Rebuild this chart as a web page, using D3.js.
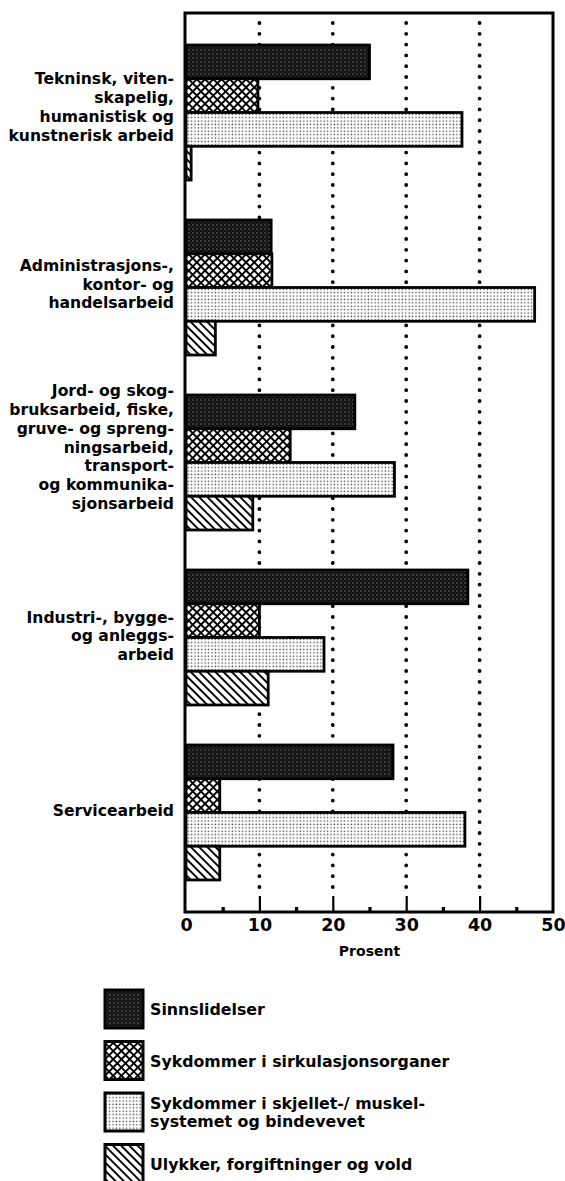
<!DOCTYPE html>
<html><head><meta charset="utf-8">
<script src="https://cdn.jsdelivr.net/npm/d3@7"></script>
<style>
html,body{margin:0;padding:0;background:#fff;}
svg text{font-family:"DejaVu Sans",Arial,Helvetica,sans-serif;font-weight:bold;fill:#000;}
</style></head>
<body>
<svg id="chart" width="565" height="1181"></svg>
<script>
// ---- data ----
const categories = [
  ["Tekninsk, viten-", "skapelig,", "humanistisk og", "kunstnerisk arbeid"],
  ["Administrasjons-,", "kontor- og", "handelsarbeid"],
  ["Jord- og skog-", "bruksarbeid, fiske,", "gruve- og spreng-", "ningsarbeid,", "transport-", "og kommunika-", "sjonsarbeid"],
  ["Industri-, bygge-", "og anleggs-", "arbeid"],
  ["Servicearbeid"]
];
const seriesNames = [
  ["Sinnslidelser"],
  ["Sykdommer i sirkulasjonsorganer"],
  ["Sykdommer i skjellet-/ muskel-", "systemet og bindevevet"],
  ["Ulykker, forgiftninger og vold"]
];
const sinnslidelser = [25, 11.6, 23, 38.4, 28.2];
const sirkulasjon   = [9.8, 11.7, 14.2, 10, 4.6];
const skjelett      = [37.6, 47.5, 28.4, 18.8, 38];
const ulykker       = [0.7, 4, 9.1, 11.2, 4.6];
const series = [sinnslidelser, sirkulasjon, skjelett, ulykker];
const xTicks = [0, 10, 20, 30, 40, 50];
const gridTicks = [10, 20, 30, 40];
const minorTicks = [5, 15, 25, 35, 45];
const axisTitle = "Prosent";

// ---- layout ----
const svg = d3.select("#chart");
const L = 186, R = 553, T = 13, B = 912;
const labelShift = [-2, 0, -12, 2, 2];
const x = d3.scaleLinear().domain([0, 50]).range([L, R]);
const y = d3.scaleBand().domain(d3.range(categories.length)).range([T, B])
  .paddingInner(0.2286).paddingOuter(0.183);
const ys = d3.scaleBand().domain(d3.range(series.length)).range([0, y.bandwidth()]);

// ---- patterns ----
const defs = svg.append("defs");
const p0 = defs.append("pattern").attr("id", "pat0").attr("patternUnits", "userSpaceOnUse")
  .attr("width", 4).attr("height", 4);
p0.append("rect").attr("width", 4).attr("height", 4).attr("fill", "#111");
p0.append("circle").attr("cx", 1).attr("cy", 1).attr("r", 0.7).attr("fill", "#888");
p0.append("circle").attr("cx", 3).attr("cy", 3).attr("r", 0.5).attr("fill", "#555");

const p1 = defs.append("pattern").attr("id", "pat1").attr("patternUnits", "userSpaceOnUse")
  .attr("width", 5.8).attr("height", 5.8).attr("patternTransform", "rotate(45)");
p1.append("rect").attr("width", 5.8).attr("height", 5.8).attr("fill", "#fff");
p1.append("line").attr("x1", 0).attr("x2", 5.8).attr("y1", 0.9).attr("y2", 0.9)
  .attr("stroke", "#000").attr("stroke-width", 2);
p1.append("line").attr("y1", 0).attr("y2", 5.8).attr("x1", 0.9).attr("x2", 0.9)
  .attr("stroke", "#000").attr("stroke-width", 2);

const p2 = defs.append("pattern").attr("id", "pat2").attr("patternUnits", "userSpaceOnUse")
  .attr("width", 3.4).attr("height", 3.4);
p2.append("rect").attr("width", 3.4).attr("height", 3.4).attr("fill", "#fff");
p2.append("circle").attr("cx", 1.2).attr("cy", 1.2).attr("r", 0.75).attr("fill", "#444");

const p3 = defs.append("pattern").attr("id", "pat3").attr("patternUnits", "userSpaceOnUse")
  .attr("width", 5.8).attr("height", 5.8).attr("patternTransform", "rotate(45)");
p3.append("rect").attr("width", 5.8).attr("height", 5.8).attr("fill", "#fff");
p3.append("line").attr("x1", 0).attr("x2", 5.8).attr("y1", 1).attr("y2", 1)
  .attr("stroke", "#000").attr("stroke-width", 1.9);
const fills = ["url(#pat0)", "url(#pat1)", "url(#pat2)", "url(#pat3)"];

// ---- gridlines (dotted) ----
svg.append("g").selectAll("line").data(gridTicks).join("line")
  .attr("x1", d => x(d)).attr("x2", d => x(d))
  .attr("y1", T + 10).attr("y2", B - 22)
  .attr("stroke", "#000").attr("stroke-width", 3.8)
  .attr("stroke-linecap", "round").attr("stroke-dasharray", "0 10.8");

// ---- bars ----
const gGroups = svg.append("g").selectAll("g").data(categories).join("g")
  .attr("transform", (d, i) => `translate(0,${y(i)})`);
gGroups.selectAll("rect").data((d, i) => series.map((s, j) => ({ v: s[i], j })))
  .join("rect")
  .attr("x", x(0)).attr("y", d => ys(d.j))
  .attr("width", d => x(d.v) - x(0)).attr("height", ys.bandwidth())
  .attr("fill", d => fills[d.j]).attr("stroke", "#000").attr("stroke-width", 2.8);

// ---- frame ----
svg.append("rect").attr("x", L - 1).attr("y", T).attr("width", R - L + 1).attr("height", B - T)
  .attr("fill", "none").attr("stroke", "#000").attr("stroke-width", 3);

// ---- axis ticks ----
const axMajor = svg.append("g").attr("transform", `translate(0,${B})`)
  .call(d3.axisBottom(x).tickValues(gridTicks).tickSize(-16).tickFormat(""));
axMajor.select(".domain").remove();
axMajor.selectAll("line").attr("stroke", "#000").attr("stroke-width", 2.2);
const axMinor = svg.append("g").attr("transform", `translate(0,${B})`)
  .call(d3.axisBottom(x).tickValues(minorTicks).tickSize(-5).tickFormat(""));
axMinor.select(".domain").remove();
axMinor.selectAll("line").attr("stroke", "#000").attr("stroke-width", 3.2);

const axLab = svg.append("g").attr("transform", `translate(0,${B})`)
  .call(d3.axisBottom(x).tickValues(xTicks).tickSize(0).tickPadding(7).tickFormat(d3.format("d")));
axLab.select(".domain").remove();
axLab.selectAll("text").attr("font-size", 17.5).attr("font-family", "DejaVu Sans, Arial, sans-serif")
  .attr("font-weight", "bold").attr("fill", "#000");

svg.append("text").attr("x", (x(0) + x(50)) / 2).attr("y", 956)
  .attr("text-anchor", "middle").attr("font-size", 14).text(axisTitle);

// ---- category labels ----
const lh = 18.7;
svg.append("g").selectAll("text").data(categories).join("text")
  .attr("text-anchor", "end").attr("font-size", 15.6)
  .each(function (lines, i) {
    const cy = y(i) + y.bandwidth() / 2 - 4 + labelShift[i];
    const y0 = cy - (lines.length - 1) * lh / 2 + 6;
    d3.select(this).selectAll("tspan").data(lines).join("tspan")
      .attr("x", 174).attr("y", (d, k) => y0 + k * lh).text(d => d);
  });

// ---- legend ----
const leg = d3.scaleBand().domain(d3.range(seriesNames.length)).range([990, 1196]);
const lg = svg.append("g").selectAll("g").data(seriesNames).join("g")
  .attr("transform", (d, i) => `translate(105,${leg(i)})`);
lg.append("rect").attr("x", 0).attr("y", 0).attr("width", 38).attr("height", 38)
  .attr("fill", (d, i) => fills[i]).attr("stroke", "#000").attr("stroke-width", 3);
lg.append("text").attr("font-size", 15.8)
  .each(function (lines) {
    const y0 = 25 - (lines.length - 1) * 18 / 2;
    d3.select(this).selectAll("tspan").data(lines).join("tspan")
      .attr("x", 45).attr("y", (d, k) => y0 + k * 18).text(d => d);
  });
</script>
</body></html>
